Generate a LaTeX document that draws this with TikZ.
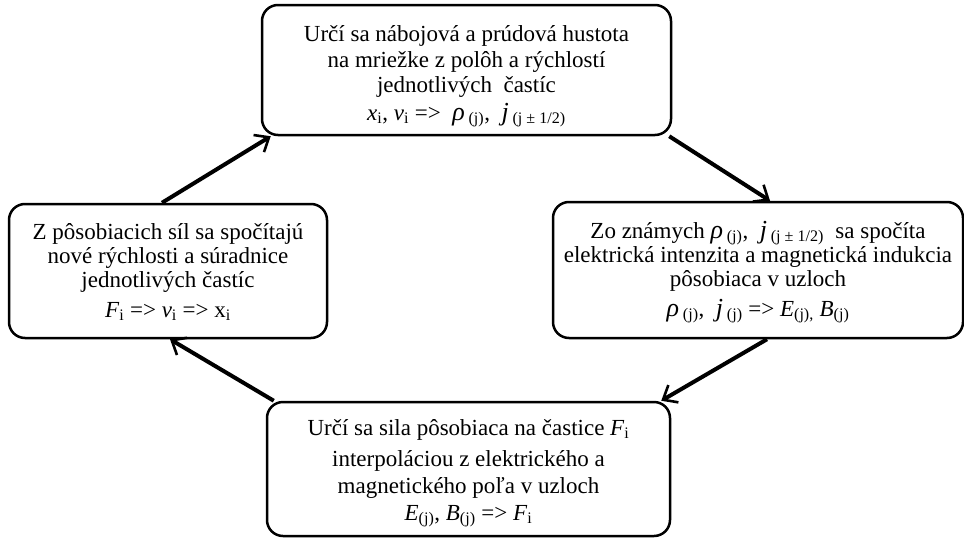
\documentclass[tikz,border=0pt]{standalone}
\usepackage{fontspec}
\setmainfont{Liberation Serif}
\usepackage{tikz}
\usetikzlibrary{arrows.meta}
\newcommand{\lo}[1]{\textsubscript{#1}}
\newcommand{\bigit}[1]{{\fontsize{26}{27}\selectfont\textit{#1}}}

\begin{document}
\begin{tikzpicture}[x=1pt,y=1pt]
\tikzstyle{every node}+=[inner sep=0pt]
\tikzstyle{stage}=[draw=black, line width=2.5pt, rounded corners=16pt, align=center, text depth=10pt, font=\fontsize{23}{27}\selectfont]
\tikzstyle{flow}=[black, line width=4pt, -{Straight Barb[length=12pt,width=20pt,line width=2.6pt]}]
\useasboundingbox (0,0) rectangle (964,-541);
% the four stages of one step
\node [stage, minimum width=409pt, minimum height=130pt, text height=110pt] (charge) at (466.5,-70)
  {Určí sa nábojová a prúdová hustota\\[-1pt]
   na mriežke z polôh a rýchlostí\\[-2pt]
   jednotlivých\ \ častíc\\[1pt]
   \textit{x}\lo{i}, \textit{v}\lo{i} =>\ \ \bigit{ρ}\,\lo{(j)}, \ \bigit{j}\,\lo{(j ± 1/2)}};
\node [stage, minimum width=410pt, minimum height=136pt, text height=104pt, text depth=12pt] (field) at (758,-270)
  {Zo známych \bigit{ρ}\,\lo{(j)}, \ \bigit{j}\,\lo{(j ± 1/2)}\ \ sa spočíta\\[-3pt]
   elektrická intenzita a magnetická indukcia\\[-3pt]
   pôsobiaca v uzloch\\[3pt]
   \bigit{ρ}\,\lo{(j)}, \ \bigit{j}\,\lo{(j)} => \textit{E}\lo{(j),} \textit{B}\lo{(j)}};
\node [stage, minimum width=403pt, minimum height=134pt, text height=112pt] (force) at (468.5,-469)
  {Určí sa sila pôsobiaca na častice \textit{F}\lo{i}\\[4pt]
   interpoláciou z elektrického a\\
   magnetického poľa v uzloch\\
   \textit{E}\lo{(j)}, \textit{B}\lo{(j)} => \textit{F}\lo{i}};
\node [stage, minimum width=318pt, minimum height=134pt, text height=102pt] (push) at (168,-271)
  {Z pôsobiacich síl sa spočítajú\\[-3pt]
   nové rýchlosti a súradnice\\[-3pt]
   jednotlivých častíc\\[3pt]
   \textit{F}\lo{i} => \textit{v}\lo{i} => x\lo{i}};
% the cycle
\draw [flow] ([xshift=-3pt]charge.south east) -- ([xshift=12pt]field.north);
\draw [flow] ([xshift=9pt]field.south) -- ([xshift=-10pt]force.north east);
\draw [flow] ([xshift=8pt]force.north west) -- ([xshift=2pt]push.south);
\draw [flow] ([xshift=-6pt]push.north) -- ([xshift=10pt]charge.south west);
\end{tikzpicture}
\end{document}
